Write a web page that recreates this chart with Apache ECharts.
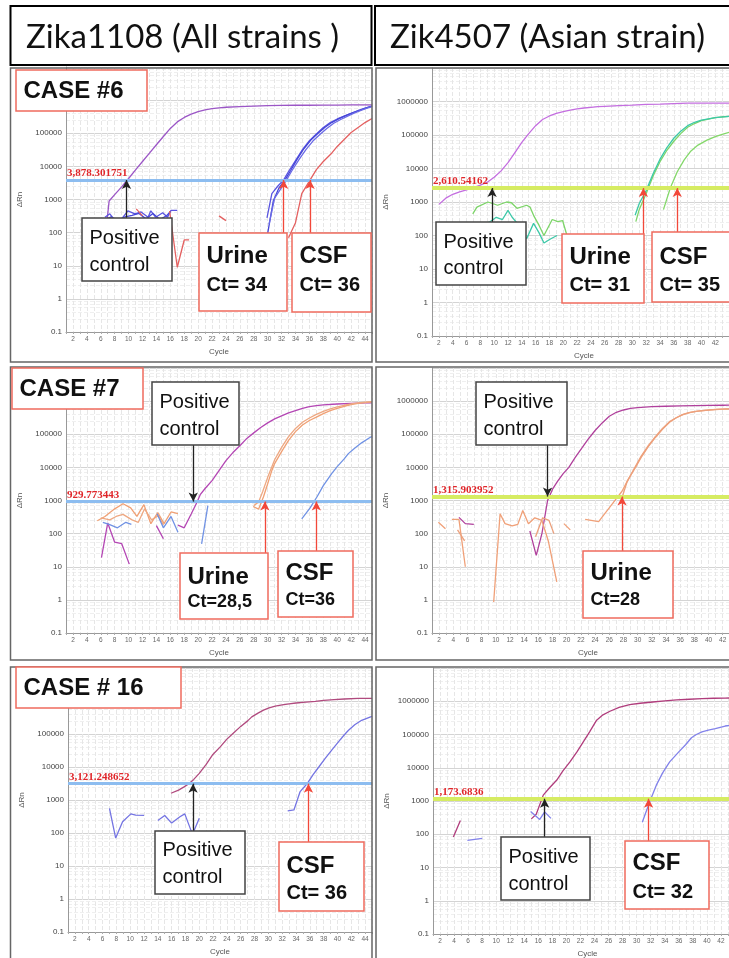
<!DOCTYPE html>
<html>
<head>
<meta charset="utf-8">
<script src="https://cdn.jsdelivr.net/npm/echarts/dist/echarts.min.js"></script>
<style>
  html, body { margin: 0; padding: 0; background: #fff; }
  #chart { width: 729px; height: 958px; }
</style>
</head>
<body>
<div id="chart"></div>
<script>
// ---- data: [cycle, dRn] pairs, '-' breaks a line ----
const headerLeft = 'Zika1108 (All strains )';
const headerRight = 'Zik4507 (Asian strain)';

// CASE #6, Zika1108
const c6aThreshold = 3878.301751;
const c6aControl = [[6.9,230],[7.2,900],[8,1400],[9,2400],[10,4300],[11,7800],[12,14000],[13,25000],[14,45000],[15,80000],[16,140000],[17,220000],[18,300000],[19,380000],[20,450000],[21,510000],[22,550000],[23,580000],[24,610000],[26,640000],[28,660000],[30,680000],[32,690000],[34,700000],[36,700000],[38,710000],[40,710000],[42,720000],[45,720000]];
const c6aUrine1 = [[6.6,290],[7.3,370],[8,240],[9,260],[9.9,455],[10.9,370],[11.8,420],[12.8,290],[13.2,455],[13.9,290],[14.9,400],[15.6,290],[16.1,470],[17,470],[18,'-'],[29.9,280],[30.6,1500],[31.5,2600],[32.3,3900],[33,7000],[34,15000],[35,32000],[36,60000],[37,95000],[38,150000],[39,210000],[40,270000],[41,330000],[42,400000],[43,480000],[44,570000],[45,660000]];
const c6aUrine2 = [[6.8,250],[7.5,300],[8.5,220],[9.5,300],[10.5,330],[11.5,380],[12.5,260],[13.5,380],[14.5,250],[15.5,330],[16,430],[17,'-'],[30,95],[30.8,900],[31.6,2200],[32.5,3900],[33.3,7500],[34.2,16000],[35.2,34000],[36.2,62000],[37.2,98000],[38.2,150000],[39.2,210000],[40.2,270000],[41.2,340000],[42.2,410000],[43.2,490000],[44.2,580000],[45,660000]];
const c6aUrine3 = [[30.2,180],[31,1100],[31.8,2000],[32.6,3600],[33.5,7500],[34.5,16000],[35.5,32000],[36.5,58000],[37.5,92000],[38.5,140000],[39.5,200000],[40.5,260000],[41.5,330000],[42.5,410000],[43.5,500000],[44.5,590000],[45,640000]];
const c6aCsf = [[11.1,520],[12,320],[13,'-'],[15.9,450],[17,9],[18,60],[18.7,60],[19,'-'],[23,320],[24,230],[25,'-'],[33,70],[34,200],[34.9,1500],[36.1,3900],[37,8000],[38,14000],[39.2,25000],[40,40000],[41,65000],[42,105000],[43,150000],[44,210000],[45,280000]];

// CASE #6, Zik4507
const c6bThreshold = 2610.54162;
const c6bControl = [[2,850],[3,1300],[4,1700],[5,2000],[6,2300],[7,2700],[8,3200],[9,3900],[10,5500],[11,8500],[12,15000],[13,30000],[14,60000],[15,110000],[16,190000],[17,290000],[18,370000],[19,440000],[20,500000],[21,550000],[22,600000],[23,640000],[24,670000],[25,700000],[26,720000],[28,750000],[30,780000],[32,820000],[34,840000],[36,870000],[38,890000],[40,890000],[42,890000],[45,900000]];
const c6bUrine1 = [[6.9,440],[7.5,700],[9.1,1000],[10.5,800],[11.8,1000],[12.5,950],[13.3,650],[14.7,800],[15.2,700],[15.7,400],[16.5,200],[17.2,100],[18.4,300],[19.2,260],[19.9,280],[20.6,90],[21,'-'],[30.5,260],[31,600],[32,1800],[33,6000],[34,16000],[35,35000],[36,65000],[37,110000],[38,170000],[39,220000],[40,270000],[41,300000],[42,330000],[43,350000],[44,360000],[45,370000]];
const c6bUrine2 = [[6.9,130],[8,200],[9.3,250],[10.3,350],[11.2,300],[12,560],[12.6,350],[13.2,250],[14,150],[14.7,80],[15.7,230],[16.5,120],[17.2,60],[18.2,80],[19.1,100],[20,'-'],[30.4,400],[31,900],[32,2200],[33,7000],[34,19000],[35,42000],[36,80000],[37,130000],[38,190000],[39,240000],[40,280000],[42,330000],[44,360000],[45,370000]];
const c6bCsf = [[34.5,590],[35.5,2660],[36.5,8000],[37.5,18000],[38.4,32000],[39.5,50000],[40.8,70000],[42,90000],[43,105000],[44,120000],[45,130000]];

// CASE #7, Zika1108
const c7aThreshold = 929.773443;
const c7aControl = [[6.1,19],[7,210],[8,55],[9,50],[10.1,12],[11,'-'],[14,175],[15,70],[16,'-'],[17.1,180],[18,150],[19,390],[19.8,860],[20.3,1500],[21,2300],[22,4000],[23,8000],[24,16000],[25,28000],[26,45000],[27,75000],[28,110000],[29,160000],[30,220000],[31,290000],[32,360000],[33,440000],[34,520000],[35,600000],[36,680000],[37,730000],[38,770000],[40,820000],[42,860000],[44,880000],[45,890000]];
const c7aUrine1 = [[5.5,245],[6.6,330],[8,560],[9.2,800],[10.3,600],[11.2,330],[12.2,750],[13.2,200],[14.2,430],[15.1,200],[16.1,450],[17.1,400],[18,'-'],[27.9,660],[28.7,550],[29.4,1300],[30,3200],[30.6,8100],[31,13000],[32,30000],[33,65000],[34,120000],[35,190000],[36,260000],[37,330000],[38,420000],[39,520000],[40,600000],[41,700000],[42,780000],[43,850000],[44,900000],[45,950000]];
const c7aUrine2 = [[6,300],[7.3,260],[8.2,330],[9.2,380],[10.5,260],[11.4,220],[12.3,560],[13.3,260],[14.3,350],[15,180],[16,'-'],[28,700],[28.7,900],[29.3,1900],[30,5000],[31,17000],[32,40000],[33,85000],[34,150000],[35,230000],[36,310000],[37,400000],[38,490000],[39,580000],[40,670000],[41,750000],[42,820000],[43,880000],[44,930000],[45,970000]];
const c7aCsf = [[6.3,220],[7.2,190],[8.4,150],[9.6,220],[10.4,190],[11,'-'],[14.1,400],[15,150],[16.1,330],[17.1,110],[18,'-'],[20.5,49],[21.4,700],[22,'-'],[34.9,280],[36.1,600],[37.1,1300],[38,2800],[39.2,6500],[40,10500],[41,18000],[41.6,26000],[42.5,38000],[43.5,55000],[44.7,80000],[45,85000]];

// CASE #7, Zik4507
const c7bThreshold = 1315.903952;
const c7bControl = [[4.8,310],[5.7,200],[6.9,190],[7,'-'],[14.8,120],[15.7,22],[16.5,100],[17.3,1000],[18,2200],[18.7,3800],[19.5,6500],[20.3,10000],[21.2,20000],[22.2,40000],[23,70000],[24,130000],[25,220000],[26,350000],[27,460000],[28,540000],[29,600000],[30,640000],[32,680000],[34,700000],[36,720000],[38,730000],[40,740000],[42,750000],[45,760000]];
const c7bUrine1 = [[1.9,220],[2.9,140],[3,'-'],[3.8,270],[4.8,270],[5.7,10],[6,'-'],[9.7,0.86],[10.6,400],[11.3,200],[12.3,170],[13.1,190],[13.8,500],[14.6,200],[15.5,300],[16.5,250],[17.4,60],[18.6,3.5],[19,'-'],[19.6,200],[20.5,130],[21,'-'],[22.6,270],[24.5,230],[26.4,780],[27.8,1900],[28.7,4500],[29.7,10000],[30.5,20000],[31.5,42000],[32.5,80000],[33.5,140000],[34.5,230000],[35.4,310000],[36.3,390000],[37.2,450000],[38.2,490000],[39.2,520000],[41,560000],[42.7,580000],[45,600000]];
const c7bUrine2 = [[4.6,130],[5.6,60],[6,'-'],[15.6,80],[16.6,300],[17.5,250],[18.2,100],[19,'-'],[27.6,900],[28.5,3600],[29.5,9000],[30.5,22000],[31.5,45000],[32.5,85000],[33.5,150000],[34.5,240000],[35.5,320000],[36.5,400000],[37.5,460000],[38.5,500000],[40,540000],[42,570000],[45,600000]];

// CASE #16, Zika1108
const c16aThreshold = 3121.248652;
const c16aControl = [[15.9,1600],[17,2000],[17.8,2500],[18.5,3100],[19.2,4200],[20,6400],[21,12000],[21.9,23000],[23,40000],[24,70000],[24.8,100000],[26,170000],[27,250000],[27.6,330000],[28.5,430000],[29.3,530000],[30.1,620000],[31,700000],[32,760000],[33,820000],[34,870000],[35,910000],[36.8,980000],[38,1050000],[39.5,1100000],[41,1150000],[43,1200000],[45,1200000]];
const c16aCsf = [[7,560],[7.9,70],[8.9,220],[10.1,380],[10.8,350],[12,340],[13,'-'],[14,240],[15,340],[16,200],[17.2,310],[17.9,380],[18.8,120],[19.1,100],[20,280],[21,'-'],[32.8,470],[33.7,500],[34.6,1800],[35.6,3100],[36.5,6000],[37.3,10000],[38.2,18000],[39.2,33000],[40.2,60000],[41,95000],[41.6,130000],[42.5,190000],[43.5,260000],[44.8,330000],[45,340000]];

// CASE #16, Zik4507
const c16bThreshold = 1173.6836;
const c16bControl = [[3.9,83],[4.9,260],[5,'-'],[15,290],[15.7,400],[16.7,1500],[17.6,2500],[18.6,4200],[19.5,8000],[20.5,15000],[21.5,30000],[22.4,60000],[23.3,120000],[24.3,270000],[25.2,390000],[26.2,500000],[27.5,650000],[29,790000],[30.5,870000],[32.3,950000],[34,1030000],[35.7,1100000],[37.5,1150000],[39.3,1200000],[41,1230000],[42.6,1250000],[45,1260000]];
const c16bCsf = [[5.9,65],[8,75],[9,'-'],[14.9,480],[16.2,280],[16.9,470],[17.8,300],[18,'-'],[30.8,230],[31.9,1000],[32.8,3000],[33.7,7000],[34.7,15000],[36,30000],[37,50000],[37.8,80000],[38.5,100000],[39.3,120000],[40.2,135000],[41.2,150000],[42.6,180000],[45,210000]];

// arrows: cycle where the arrow points, dRn where it starts
const c6aArrows = [[9.7,275,'k'],[32.3,98,'r'],[36.1,98,'r']];
const c6bArrows = [[9.7,250,'k'],[31.6,110,'r'],[36.5,125,'r']];
const c7aArrows = [[19.3,48000,'k'],[29.6,26,'r'],[37,30,'r']];
const c7bArrows = [[17.3,48000,'k'],[27.8,30,'r']];
const c16aArrows = [[19.1,115,'k'],[35.8,53,'r']];
const c16bArrows = [[16.9,83,'k'],[31.7,63,'r']];

// ---- styling / layout ----
const RED = '#ef6b5e';
const ARROW_RED = '#f2483a';
const BLUE_THR = '#8dbdf0';
const LIME_THR = '#d6ec62';
const SANS = '"Liberation Sans", Arial, sans-serif';

function fmtThr(v) {
  const parts = String(v).split('.');
  return parts[0].replace(/\B(?=(\d{3})+(?!\d))/g, ',') + (parts[1] ? '.' + parts[1] : '');
}

const panels = [
  { grid: {left: 66, top: 67, width: 306, height: 265}, lastLabel: 44, thr: c6aThreshold, thrColor: BLUE_THR, thrWidth: 3,
    lines: [[c6aControl, '#9b56c6'], [c6aUrine1, '#5a55e0'], [c6aUrine2, '#4646d8'], [c6aUrine3, '#6a6ae6'], [c6aCsf, '#e46060']],
    arrows: c6aArrows },
  { grid: {left: 432, top: 68, width: 304, height: 268}, lastLabel: 42, thr: c6bThreshold, thrColor: LIME_THR, thrWidth: 4,
    lines: [[c6bControl, '#c46ee0'], [c6bUrine1, '#7cd468'], [c6bUrine2, '#3cc8a8'], [c6bCsf, '#84d86a']],
    arrows: c6bArrows },
  { grid: {left: 66, top: 368, width: 306, height: 265}, lastLabel: 44, thr: c7aThreshold, thrColor: BLUE_THR, thrWidth: 3,
    lines: [[c7aControl, '#b446b4'], [c7aUrine1, '#f0a074'], [c7aUrine2, '#eea882'], [c7aCsf, '#7092e4']],
    arrows: c7aArrows },
  { grid: {left: 432, top: 368, width: 312, height: 265}, lastLabel: 42, thr: c7bThreshold, thrColor: LIME_THR, thrWidth: 4,
    lines: [[c7bControl, '#b0409c'], [c7bUrine1, '#f0a078'], [c7bUrine2, '#eca07c']],
    arrows: c7bArrows },
  { grid: {left: 68, top: 668, width: 304, height: 264}, lastLabel: 44, thr: c16aThreshold, thrColor: BLUE_THR, thrWidth: 3,
    lines: [[c16aControl, '#b04a7e'], [c16aCsf, '#7474e2']],
    arrows: c16aArrows },
  { grid: {left: 433, top: 668, width: 309, height: 266}, lastLabel: 42, thr: c16bThreshold, thrColor: LIME_THR, thrWidth: 4,
    lines: [[c16bControl, '#b03c7c'], [c16bCsf, '#8282ea']],
    arrows: c16bArrows }
];

const grids = [], xAxes = [], yAxes = [], series = [];
panels.forEach((p, i) => {
  grids.push(Object.assign({ outerBoundsMode: 'none', containLabel: false }, p.grid));
  xAxes.push({
    gridIndex: i, type: 'value', min: 1, max: 45, interval: 1,
    name: 'Cycle', nameLocation: 'middle', nameGap: 16,
    nameTextStyle: { fontSize: 8, color: '#555', fontFamily: SANS },
    axisLine: { lineStyle: { color: '#999', width: 1 } },
    axisTick: { length: 2, lineStyle: { color: '#aaa' } },
    axisLabel: { fontSize: 6.5, color: '#666', margin: 4, fontFamily: SANS,
      formatter: v => (v % 2 === 0 && v <= p.lastLabel) ? String(v) : '' },
    splitLine: { show: true, lineStyle: { color: '#e6e6e6', type: 'dashed', width: 1 } }
  });
  yAxes.push({
    gridIndex: i, type: 'log', logBase: 10, min: 0.1, max: 1e7,
    name: 'ΔRn', nameLocation: 'middle', nameGap: 42,
    nameTextStyle: { fontSize: 8, color: '#555', fontFamily: SANS },
    axisLine: { show: true, lineStyle: { color: '#999', width: 1 } },
    axisTick: { show: false },
    axisLabel: { fontSize: 8, color: '#444', margin: 4, fontFamily: SANS,
      formatter: v => v >= 9e6 ? '' : (v < 1 ? String(Math.round(v * 10) / 10) : String(Math.round(v))) },
    splitLine: { show: true, lineStyle: { color: '#d4d4d4', width: 1 } },
    minorTick: { show: false, splitNumber: 6 },
    minorSplitLine: { show: true, lineStyle: { color: '#efefef', type: 'dashed', width: 1 } }
  });

  p.lines.forEach(([data, color], k) => {
    const s = {
      type: 'line', xAxisIndex: i, yAxisIndex: i, data: data,
      showSymbol: false, symbol: 'none', connectNulls: false, silent: true,
      lineStyle: { color: color, width: 1.3 }, itemStyle: { color: color }, z: 3
    };
    if (k === 0) {
      s.markLine = {
        silent: true, symbol: ['none', 'none'], animation: false,
        data: [{
          yAxis: p.thr,
          lineStyle: { color: p.thrColor, width: p.thrWidth, type: 'solid' },
          label: { show: true, position: 'insideStartTop', distance: [1, 1],
            formatter: fmtThr(p.thr), color: '#e0262a', fontWeight: 'bold', fontSize: 11,
            fontFamily: '"Liberation Serif", "Times New Roman", serif' }
        }]
      };
    }
    series.push(s);
  });

  // annotation arrows live on their own empty line
  series.push({
    type: 'line', xAxisIndex: i, yAxisIndex: i, data: [[1, '-']], silent: true, z: 5,
    showSymbol: false,
    markLine: {
      silent: true, animation: false, symbol: ['none', 'arrow'], symbolSize: [7, 9],
      label: { show: false },
      data: p.arrows.map(([c, from, kind]) => [
        { coord: [c, from], lineStyle: { color: kind === 'k' ? '#222' : ARROW_RED, width: 1.3, type: 'solid' },
          itemStyle: { color: kind === 'k' ? '#222' : ARROW_RED } },
        { coord: [c, p.thr] }
      ])
    }
  });
});

// ---- graphic overlay: headers, frames, call-out boxes ----
const graphic = [];
function rect(x, y, w, h, stroke, lw, fill, z) {
  graphic.push({ type: 'rect', shape: { x: x, y: y, width: w, height: h }, z: z,
    style: { fill: fill, stroke: stroke, lineWidth: lw } });
}
function text(x, y, str, font) {
  graphic.push({ type: 'text', x: x, y: y, z: 61,
    style: { text: str, font: font, fill: '#111', textAlign: 'left', textVerticalAlign: 'middle', verticalAlign: 'middle' } });
}
function callout(x, y, w, h, stroke, lines) {
  rect(x, y, w, h, stroke, 1.5, '#fff', 60);
  lines.forEach(([str, ty, size, bold]) => text(x + 7.5, ty, str, (bold ? 'bold ' : '') + size + 'px ' + SANS));
}

// headers
rect(10.5, 6, 361, 59, '#000', 2, '#fff', 60);
rect(375, 6, 360, 59, '#000', 2, '#fff', 60);
text(26, 37, headerLeft, '33px Lato, "Open Sans", sans-serif');
text(390, 37, headerRight, '33px Lato, "Open Sans", sans-serif');

// panel frames
[[10.5, 68, 361.5, 294], [376, 68, 360, 294], [10.5, 367, 361.5, 293], [376, 367, 360, 293],
 [10.5, 667, 361.5, 300], [376, 667, 360, 300]].forEach(f => rect(f[0], f[1], f[2], f[3], '#666', 1.5, 'none', 59));

// CASE #6
callout(16, 70, 131, 41, RED, [['CASE #6', 91, 24, true]]);
callout(82, 218, 90, 63, '#444', [['Positive', 238, 20, false], ['control', 265, 20, false]]);
callout(199, 233, 88, 78, RED, [['Urine', 256, 24, true], ['Ct= 34', 285, 20, true]]);
callout(292, 233, 79, 79, RED, [['CSF', 256, 24, true], ['Ct= 36', 285, 20, true]]);
callout(436, 222, 90, 63, '#444', [['Positive', 242, 20, false], ['control', 268, 20, false]]);
callout(562, 234, 82, 69, RED, [['Urine', 257, 24, true], ['Ct= 31', 285, 20, true]]);
callout(652, 232, 90, 70, RED, [['CSF', 257, 24, true], ['Ct= 35', 285, 20, true]]);
// CASE #7
callout(12, 368, 131, 41, RED, [['CASE #7', 389, 24, true]]);
callout(152, 382, 87, 63, '#444', [['Positive', 402, 20, false], ['control', 429, 20, false]]);
callout(180, 553, 88, 66, RED, [['Urine', 577, 24, true], ['Ct=28,5', 602, 18, true]]);
callout(278, 551, 75, 66, RED, [['CSF', 573, 24, true], ['Ct=36', 600, 18, true]]);
callout(476, 382, 91, 63, '#444', [['Positive', 402, 20, false], ['control', 429, 20, false]]);
callout(583, 551, 90, 67, RED, [['Urine', 573, 24, true], ['Ct=28', 600, 18, true]]);
// CASE # 16
callout(16, 667, 165, 41, RED, [['CASE # 16', 688, 24, true]]);
callout(155, 831, 90, 63, '#444', [['Positive', 850, 20, false], ['control', 877, 20, false]]);
callout(279, 842, 85, 69, RED, [['CSF', 866, 24, true], ['Ct= 36', 893, 20, true]]);
callout(501, 837, 89, 63, '#444', [['Positive', 857, 20, false], ['control', 884, 20, false]]);
callout(625, 841, 84, 68, RED, [['CSF', 863, 24, true], ['Ct= 32', 892, 20, true]]);

const chart = echarts.init(document.getElementById('chart'), null, { renderer: 'canvas' });
chart.setOption({
  animation: false,
  backgroundColor: '#fff',
  grid: grids,
  xAxis: xAxes,
  yAxis: yAxes,
  series: series,
  graphic: { elements: graphic }
});
</script>
</body>
</html>
